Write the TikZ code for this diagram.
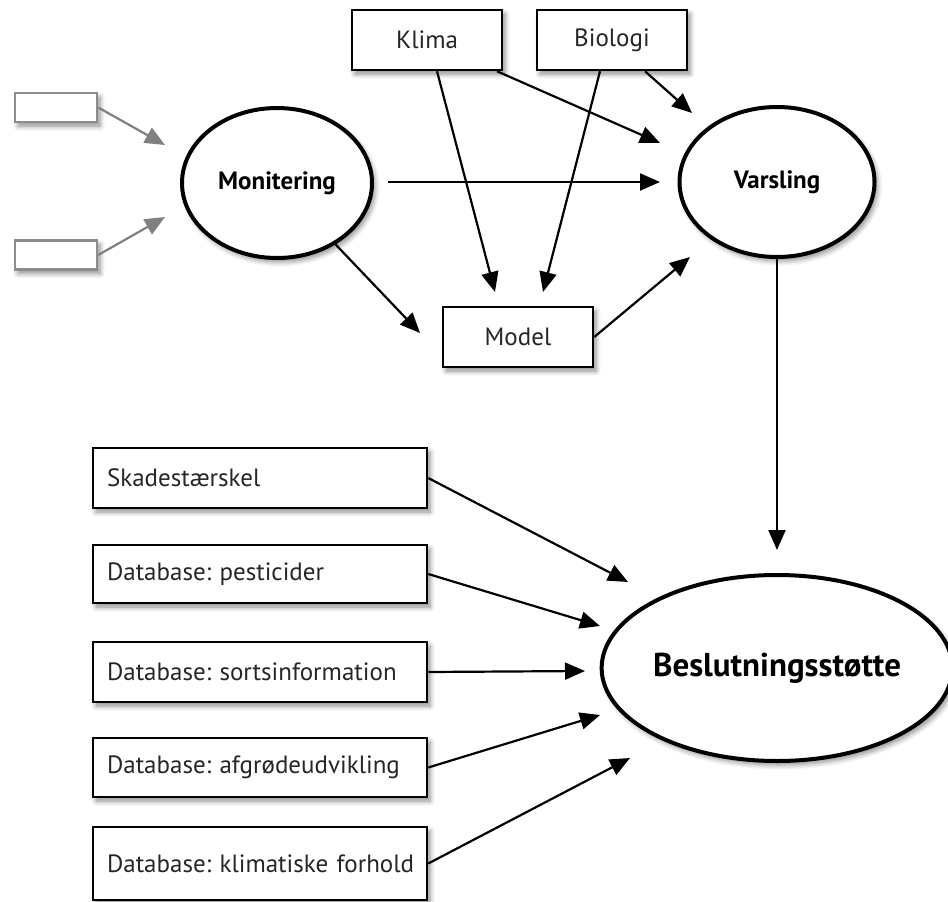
\documentclass[tikz,border=0pt]{standalone}
\usepackage{fontspec}
\setmainfont{PT Sans}
\frenchspacing
\hbadness=10000 \hfuzz=100pt
\usetikzlibrary{arrows.meta,shapes.geometric,shadows.blur}
\begin{document}
\begin{tikzpicture}[x=1pt,y=-1pt,
  shad/.style={blur shadow={shadow xshift=3pt,shadow yshift=-4pt,shadow blur steps=6,shadow blur radius=5pt,shadow opacity=45}},
  box/.style={draw=black,line width=2.5pt,fill=white,rectangle,inner sep=0pt,shad,text=black!85,font=\fontsize{25}{28}\selectfont},
  lbox/.style={box,inner xsep=14pt,inner ysep=0pt,text width=306pt,align=left},
  gbox/.style={draw=gray!90,line width=2.5pt,fill=white,rectangle,inner sep=0pt,minimum width=82pt,minimum height=29pt,shad},
  ell/.style={draw=black,line width=4pt,fill=white,ellipse,inner sep=0pt,shad,font=\fontsize{25}{28}\selectfont\bfseries},
  arr/.style={line width=2.2pt,-{Triangle[length=20pt,width=17pt]}},
  garr/.style={arr,draw=gray,fill=gray,-{Triangle[length=20pt,width=17pt,fill=gray]}}
]
\useasboundingbox (0,0) rectangle (948,902);
% nodes
\node[gbox] (g1) at (56,107.5) {};
\node[gbox] (g2) at (56,255) {};
\node[box,minimum width=150pt,minimum height=60pt] (klima) at (427,40) {Klima};
\node[box,minimum width=150pt,minimum height=60pt] (bio) at (612,40) {Biologi};
\node[box,minimum width=150pt,minimum height=60pt] (model) at (518,337) {Model};
\node[ell,minimum width=190pt,minimum height=150pt] (mon) at (277,183) {Monitering};
\node[ell,minimum width=195pt,minimum height=150pt] (var) at (777,182) {Varsling};
\node[ell,minimum width=340pt,minimum height=186pt,font=\fontsize{33}{36}\selectfont\bfseries] (bes) at (777,668) {Beslutningsstøtte};
\node[lbox,minimum height=60pt] (sk) at (260,478) {\mbox{Skadestærskel}};
\node[lbox,minimum height=58pt] (pest) at (260,574) {\mbox{Database: pesticider}};
\node[lbox,minimum height=60pt] (sort) at (260,672) {\mbox{Database: sortsinformation}};
\node[lbox,minimum height=59pt] (afgr) at (260,767.5) {\mbox{Database: afgrødeudvikling}};
\node[lbox,minimum height=73pt] (klimf) at (260,863.5) {\mbox{Database: klimatiske forhold}};
% free ends
\coordinate (tg1) at (165,145);
\coordinate (tg2) at (165,217);
\coordinate (tkv) at (660,143);
\coordinate (tbv) at (692,113);
\coordinate (tkm) at (495,292);
\coordinate (tbm) at (543,292);
\coordinate (smv) at (388,182);
\coordinate (tmv) at (660,182);
\coordinate (tmm) at (420,333);
\coordinate (tmodv) at (690,257);
\coordinate (tvb) at (777,550);
\coordinate (t1) at (628,582);
\coordinate (t2) at (600,626);
\coordinate (t3) at (585,671);
\coordinate (t4) at (600,715);
\coordinate (t5) at (630,758);
% connectors
\draw[garr] (g1.east) -- (tg1);
\draw[garr] (g2.east) -- (tg2);
\draw[arr] ([xshift=70pt]klima.south) -- (tkv);
\draw[arr] ([xshift=33pt]bio.south) -- (tbv);
\draw[arr] ([xshift=10pt]klima.south) -- (tkm);
\draw[arr] ([xshift=-12pt]bio.south) -- (tbm);
\draw[arr] (smv) -- (tmv);
\draw[arr] (mon) -- (tmm);
\draw[arr] (model.east) -- (tmodv);
\draw[arr] (var.south) -- (tvb);
\draw[arr] (sk.east) -- (t1);
\draw[arr] (pest.east) -- (t2);
\draw[arr] (sort.east) -- (t3);
\draw[arr] (afgr.east) -- (t4);
\draw[arr] (klimf.east) -- (t5);
\end{tikzpicture}
\end{document}
